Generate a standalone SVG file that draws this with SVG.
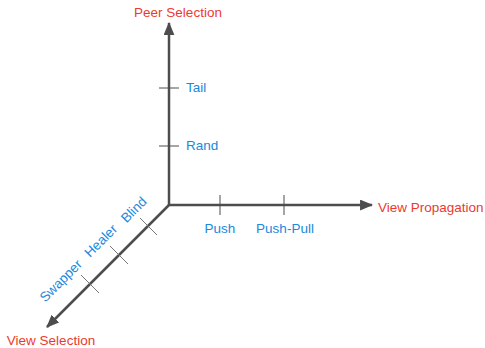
<svg xmlns="http://www.w3.org/2000/svg" width="485" height="348" viewBox="0 0 485 348">
  <style>
    .axis { stroke: #4d4d4d; stroke-width: 2.5; fill: none; }
    .tick { stroke: #4d4d4d; stroke-width: 1; }
    .dtick { stroke: #777; stroke-width: 1; }
    .title { font-family: "Liberation Sans", Arial, sans-serif; font-size: 13.5px; fill: #ec3a2f; }
    .val { font-family: "Liberation Sans", Arial, sans-serif; font-size: 13.5px; fill: #2088dc; }
  </style>
  <defs>
    <marker id="arrow" viewBox="0 0 12 10" refX="11" refY="5" markerUnits="userSpaceOnUse" markerWidth="13" markerHeight="11" orient="auto">
      <path d="M0,0 L12,5 L0,10 Z" fill="#4d4d4d"/>
    </marker>
  </defs>

  <g id="connectors">
    <line class="axis" x1="169" y1="206" x2="169" y2="23" marker-end="url(#arrow)"/>
    <line class="axis" x1="168" y1="205" x2="372" y2="205" marker-end="url(#arrow)"/>
    <line class="axis" x1="169" y1="205" x2="47" y2="327" marker-end="url(#arrow)"/>
  </g>

  <g id="peer-selection">
    <text class="title" x="178" y="17" text-anchor="middle">Peer Selection</text>
    <line class="tick" x1="159" y1="88" x2="179" y2="88"/>
    <text class="val" x="186" y="92">Tail</text>
    <line class="tick" x1="159" y1="146" x2="179" y2="146"/>
    <text class="val" x="186" y="150">Rand</text>
  </g>

  <g id="view-propagation">
    <text class="title" x="378" y="212">View Propagation</text>
    <line class="tick" x1="220" y1="195" x2="220" y2="215"/>
    <text class="val" x="220" y="233" text-anchor="middle">Push</text>
    <line class="tick" x1="284" y1="195" x2="284" y2="215"/>
    <text class="val" x="285" y="233" text-anchor="middle">Push-Pull</text>
  </g>

  <g id="view-selection">
    <text class="title" x="51" y="345" text-anchor="middle">View Selection</text>
    <line class="dtick" x1="140" y1="218" x2="157" y2="235"/>
    <text class="val" x="137" y="213" text-anchor="middle" transform="rotate(-45 137 213)">Blind</text>
    <line class="dtick" x1="110" y1="246" x2="128" y2="264"/>
    <text class="val" x="104" y="244" text-anchor="middle" transform="rotate(-45 104 244)">Healer</text>
    <line class="dtick" x1="81" y1="275" x2="99" y2="293"/>
    <text class="val" x="64" y="284" text-anchor="middle" transform="rotate(-45 64 284)">Swapper</text>
  </g>
</svg>
